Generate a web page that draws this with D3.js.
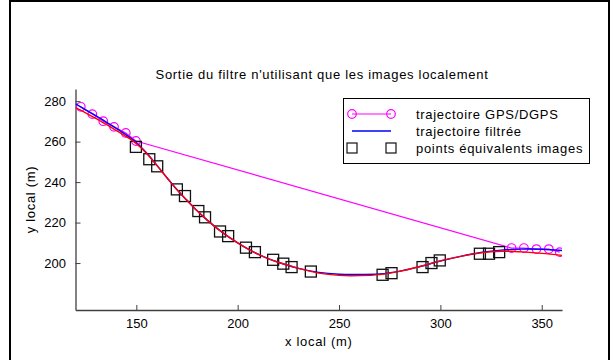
<!DOCTYPE html>
<html><head><meta charset="utf-8">
<script src="https://cdn.jsdelivr.net/npm/d3@7/dist/d3.min.js"></script>
<style>
body{margin:0;background:#fff;}
text{font-family:"Liberation Sans",Arial,sans-serif;}
</style></head>
<body><svg id="c" width="613" height="360"></svg>
<script>
const gpsX = [122.6,128.3,133.7,139.0,144.8,149.8,335.1,341.2,347.4,353.5,358.9];
const gpsY = [277.2,273.6,270.1,267.3,264.3,260.3,207.4,207.4,206.9,206.9,205.4];

const filtX = [120,125,130,135,140,145,150,155,160,165,170,175,180,185,190,195,200,205,210,215,220,230,240,250,260,270,280,290,300,310,320,330,340,350,360];
const filtY = [278.6,275.7,272.8,269.8,266.6,263.3,259.6,254.5,248.5,242.3,236.3,231.0,225.8,221.2,217.0,213.3,210.0,207.0,204.4,202.2,200.4,197.4,195.4,194.5,194.4,194.6,196.0,198.3,201.0,203.3,205.2,206.4,206.9,206.8,206.2];

const refX = [120,125,130,135,140,145,150,155,160,165,170,175,180,185,190,195,200,205,210,215,220,230,240,250,260,270,280,290,300,310,320,330,335,340,350,360];
const refY = [276.8,274.2,271.5,268.6,265.6,262.5,259.0,254.3,248.4,242.3,236.3,231.0,225.8,221.2,217.0,213.3,210.0,207.0,204.4,202.2,200.4,197.4,195.0,193.9,193.8,194.3,195.9,198.3,201.1,203.3,205.0,205.8,205.8,205.5,204.8,203.8];

const imgX = [149.8,156.4,160.3,170.0,174.0,180.6,183.9,191.3,195.3,204.1,208.5,217.5,222.5,226.6,236.1,271.5,275.9,291.2,295.6,299.7,319.5,324.0,329.0];
const imgY = [257.4,251.3,247.8,236.4,233.1,225.7,222.6,215.6,213.3,207.6,205.4,201.6,199.7,198.0,195.8,194.2,195.0,198.0,200.0,201.3,204.6,204.6,205.4];

const xTicks = [150,200,250,300,350];
const yTicks = [200,220,240,260,280];
const title = "Sortie du filtre n'utilisant que les images localement";
const xLabel = "x local (m)";
const yLabel = "y local (m)";
const legendLabels = ["trajectoire GPS/DGPS","trajectoire filtrée","points équivalents images"];

const svg = d3.select("#c");
// figure frame
svg.append("line").attr("x1",10).attr("x2",10).attr("y1",0).attr("y2",360).attr("stroke","#000").attr("stroke-width",2);
svg.append("line").attr("x1",609).attr("x2",609).attr("y1",0).attr("y2",360).attr("stroke","#000").attr("stroke-width",2);
svg.append("line").attr("x1",10).attr("x2",609).attr("y1",1).attr("y2",1).attr("stroke","#000").attr("stroke-width",2);

const L = 75.5, R = 562, T = 89, B = 310;
const x = d3.scaleLinear().domain([120,360]).range([L,R]);
const y = d3.scaleLinear().domain([176.8,286]).range([B,T]);

svg.append("defs").append("clipPath").attr("id","clip").append("rect")
  .attr("x",L).attr("y",T).attr("width",R-L).attr("height",B-T);

const FS = 13, LS = "0.7px";
const axCol = "#404040";
const xa = svg.append("g").attr("transform",`translate(0,${B})`)
  .call(d3.axisBottom(x).tickValues(xTicks).tickSizeInner(-5).tickSizeOuter(0).tickPadding(9));
const ya = svg.append("g").attr("transform",`translate(${L},0)`)
  .call(d3.axisLeft(y).tickValues(yTicks).tickSizeInner(-5).tickSizeOuter(0).tickPadding(9));
[xa,ya].forEach(a=>{
  a.select(".domain").attr("stroke",axCol).attr("stroke-width",1.3);
  a.selectAll(".tick line").attr("stroke",axCol).attr("stroke-width",1);
  a.selectAll(".tick text").attr("fill","#000").attr("font-size",FS).attr("font-family","Liberation Sans, Arial, sans-serif");
});
ya.selectAll(".tick text").attr("dx",-0.5);

const plot = svg.append("g").attr("clip-path","url(#clip)");
const line = d3.line().x(d=>x(d[0])).y(d=>y(d[1]));
const smooth = d3.line().x(d=>x(d[0])).y(d=>y(d[1])).curve(d3.curveCatmullRom);

const gps = gpsX.map((v,i)=>[v,gpsY[i]]);
const filt = filtX.map((v,i)=>[v,filtY[i]]);
const ref = refX.map((v,i)=>[v,refY[i]]);
const img = imgX.map((v,i)=>[v,imgY[i]]);

plot.append("path").attr("d",line(gps)).attr("fill","none").attr("stroke","#ff00ff").attr("stroke-width",1.2);
plot.selectAll(".gc").data(gps).enter().append("circle")
  .attr("cx",d=>x(d[0])).attr("cy",d=>y(d[1])).attr("r",4.3)
  .attr("fill","none").attr("stroke","#ff00ff").attr("stroke-width",1.2);
plot.selectAll(".sq").data(img).enter().append("rect")
  .attr("x",d=>x(d[0])-5.5).attr("y",d=>y(d[1])-5.5).attr("width",11).attr("height",11)
  .attr("fill","none").attr("stroke","#111").attr("stroke-width",1.3);
plot.append("path").attr("d",smooth(filt)).attr("fill","none").attr("stroke","#0000ff").attr("stroke-width",1.4);
plot.append("path").attr("d",smooth(ref)).attr("fill","none").attr("stroke","#ff0000").attr("stroke-width",1.4);

// title and labels
svg.append("text").attr("x",322).attr("y",79).attr("text-anchor","middle").attr("font-size",FS).attr("letter-spacing",LS).text(title);
svg.append("text").attr("x",(L+R)/2).attr("y",346).attr("text-anchor","middle").attr("font-size",FS).attr("letter-spacing",LS).text(xLabel);
svg.append("text").attr("transform",`translate(35,${(T+B)/2}) rotate(-90)`).attr("text-anchor","middle").attr("font-size",FS).attr("letter-spacing",LS).text(yLabel);

// legend
const lg = svg.append("g");
lg.append("rect").attr("x",343.5).attr("y",98.5).attr("width",246).attr("height",65).attr("fill","#fff").attr("stroke","#000").attr("stroke-width",1);
const rows = [114,131,148];
const lx1 = 352, lx2 = 391;
lg.append("line").attr("x1",lx1).attr("x2",lx2).attr("y1",rows[0]).attr("y2",rows[0]).attr("stroke","#ff00ff").attr("stroke-width",1.2);
[lx1,lx2].forEach(cx=>lg.append("circle").attr("cx",cx).attr("cy",rows[0]).attr("r",4.3).attr("fill","none").attr("stroke","#ff00ff").attr("stroke-width",1.2));
lg.append("line").attr("x1",lx1).attr("x2",lx2).attr("y1",rows[1]).attr("y2",rows[1]).attr("stroke","#0000ff").attr("stroke-width",1.4);
[lx1,lx2].forEach(cx=>lg.append("rect").attr("x",cx-5).attr("y",rows[2]-5).attr("width",10).attr("height",10).attr("fill","none").attr("stroke","#111").attr("stroke-width",1.2));
legendLabels.forEach((t,i)=>lg.append("text").attr("x",416).attr("y",rows[i]+4.5).attr("font-size",FS).attr("letter-spacing",LS).text(t));
</script></body></html>
